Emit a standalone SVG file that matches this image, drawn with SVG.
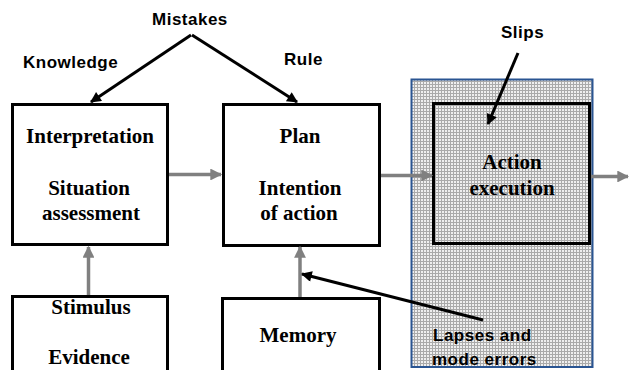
<svg xmlns="http://www.w3.org/2000/svg" width="629" height="370" viewBox="0 0 629 370">
  <style>
    .box { fill: #ffffff; stroke: #000000; stroke-width: 3; }
    .clear { fill: none; stroke: #000000; stroke-width: 3; }
    .title { font-family: "Liberation Serif", "Times New Roman", serif; font-weight: bold; font-size: 21px; text-anchor: middle; fill: #000000; }
    .label { font-family: "Liberation Sans", Arial, sans-serif; font-weight: bold; font-size: 17px; letter-spacing: 0.5px; fill: #000000; }
    .flow { stroke: #808080; stroke-width: 3.5; fill: none; }
    .err { stroke: #000000; stroke-width: 3; fill: none; }
  </style>
  <defs>
    <!-- halftone grey used for the action zone -->
    <pattern id="halftone" width="3" height="3" patternUnits="userSpaceOnUse">
      <rect width="3" height="3" fill="#efefef"/>
      <rect width="3" height="1" fill="#aaaaaa"/>
      <rect width="1" height="3" fill="#aaaaaa"/>
    </pattern>
    <marker id="grey-head" viewBox="0 0 10 10" refX="9" refY="5" markerWidth="4" markerHeight="3.4" orient="auto" markerUnits="strokeWidth">
      <path d="M0,0 L10,5 L0,10 Z" fill="#808080"/>
    </marker>
    <marker id="black-head" viewBox="0 0 10 10" refX="9" refY="5" markerWidth="4.2" markerHeight="3.6" orient="auto" markerUnits="strokeWidth">
      <path d="M0,0 L10,5 L0,10 Z" fill="#000000"/>
    </marker>
  </defs>

  <rect width="629" height="370" fill="#ffffff"/>

  <!-- shaded action zone -->
  <g id="action-zone">
    <rect x="411.5" y="79.5" width="181" height="287.5" fill="url(#halftone)" stroke="#2a5592" stroke-width="2"/>
  </g>

  <g id="interpretation">
    <rect class="box" x="12.5" y="104.5" width="155" height="140"/>
    <text class="title" x="90" y="143">Interpretation</text>
    <text class="title" x="89" y="195">Situation</text>
    <text class="title" x="91" y="220">assessment</text>
  </g>

  <g id="plan">
    <rect class="box" x="223.5" y="104.5" width="156" height="141"/>
    <text class="title" x="300" y="143">Plan</text>
    <text class="title" x="300" y="195">Intention</text>
    <text class="title" x="299" y="220">of action</text>
  </g>

  <g id="action">
    <rect class="clear" x="433.5" y="103.5" width="156" height="140"/>
    <text class="title" x="512" y="169">Action</text>
    <text class="title" x="512" y="195">execution</text>
  </g>

  <g id="stimulus">
    <rect class="box" x="12.5" y="296.5" width="155" height="80"/>
    <text class="title" x="91" y="314">Stimulus</text>
    <text class="title" x="89" y="364">Evidence</text>
  </g>

  <g id="memory">
    <rect class="box" x="222.5" y="298.5" width="157" height="80"/>
    <text class="title" x="298" y="342">Memory</text>
  </g>

  <g id="labels">
    <text class="label" x="152" y="25">Mistakes</text>
    <text class="label" x="23" y="68">Knowledge</text>
    <text class="label" x="284" y="65">Rule</text>
    <text class="label" x="501" y="38">Slips</text>
    <text class="label" x="433" y="341">Lapses and</text>
    <text class="label" x="432" y="365">mode errors</text>
  </g>

  <g id="connectors">
    <!-- information flow -->
    <line class="flow" x1="169" y1="174.5" x2="221" y2="174.5" marker-end="url(#grey-head)"/>
    <line class="flow" x1="381" y1="175.5" x2="432" y2="175.5" marker-end="url(#grey-head)"/>
    <line class="flow" x1="591" y1="176.5" x2="628" y2="176.5" marker-end="url(#grey-head)"/>
    <line class="flow" x1="88.5" y1="295" x2="88.5" y2="247" marker-end="url(#grey-head)"/>
    <line class="flow" x1="300" y1="297" x2="300" y2="247" marker-end="url(#grey-head)"/>
    <!-- error sources -->
    <line class="err" x1="191" y1="35" x2="91" y2="102" marker-end="url(#black-head)"/>
    <line class="err" x1="192" y1="35" x2="297" y2="102" marker-end="url(#black-head)"/>
    <line class="err" x1="518" y1="53" x2="488" y2="124" marker-end="url(#black-head)"/>
    <line class="err" x1="483" y1="320" x2="302" y2="274" marker-end="url(#black-head)"/>
  </g>
</svg>
